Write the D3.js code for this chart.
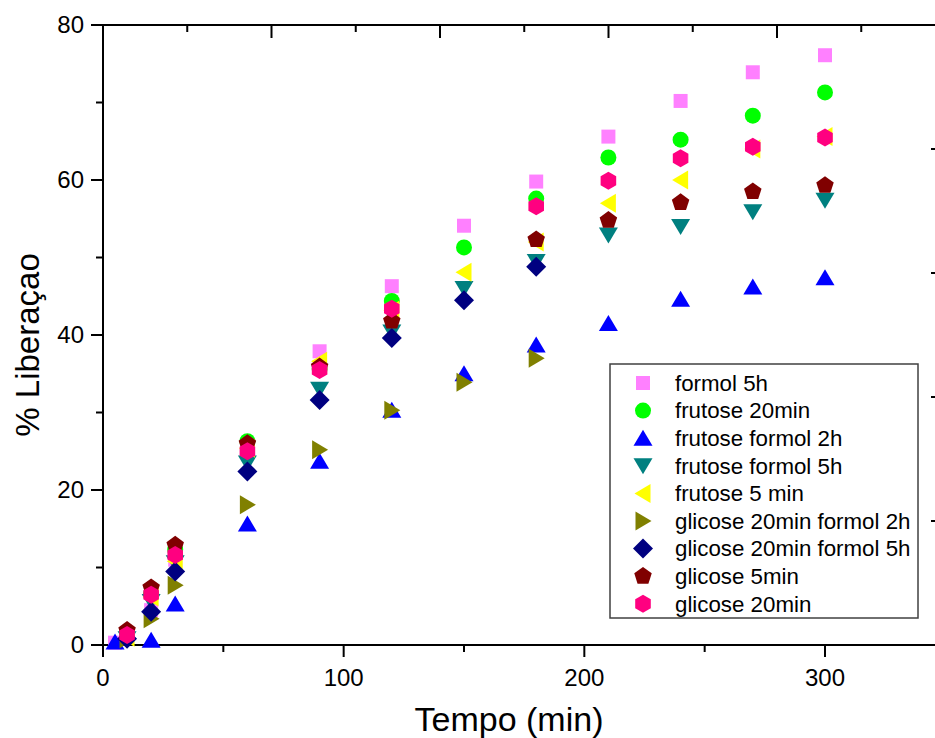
<!DOCTYPE html>
<html>
<head>
<meta charset="utf-8">
<script src="https://cdn.jsdelivr.net/npm/d3@7/dist/d3.min.js"></script>
<style>
  html, body { margin: 0; padding: 0; background: #fff; }
  svg { display: block; font-family: Arial, "Liberation Sans", sans-serif; }
</style>
</head>
<body>
<svg id="chart" width="935" height="738"></svg>
<script>
// ---------------- DATA ----------------
const times = [5, 10, 20, 30, 60, 90, 120, 150, 180, 210, 240, 270, 300];

const seriesNames = [
  "formol 5h",
  "frutose 20min",
  "frutose formol 2h",
  "frutose formol 5h",
  "frutose 5 min",
  "glicose 20min formol 2h",
  "glicose 20min formol 5h",
  "glicose 5min",
  "glicose 20min"
];

const formol5h          = [0.3, 1.0, 4.5, 11.0, 25.5, 37.9, 46.3, 54.1, 59.8, 65.6, 70.2, 73.9, 76.1];
const frutose20min      = [null, 1.0, 6.6, 12.3, 26.3, 35.6, 44.4, 51.3, 57.6, 62.9, 65.2, 68.3, 71.3];
const frutoseFormol2h   = [0.4, null, 0.6, 5.3, 15.6, 23.7, 30.3, 35.0, 38.7, 41.5, 44.6, 46.2, 47.4];
const frutoseFormol5h   = [null, 0.8, 5.6, 10.6, 23.5, 33.0, 40.4, 46.0, 49.5, 52.9, 54.0, 55.9, 57.4];
const frutose5min       = [null, 1.0, 6.2, 10.8, 25.4, 36.6, 43.2, 48.1, 52.0, 57.0, 60.0, 64.0, 65.6];
const glicose20Formol2h = [null, 0.8, 3.4, 7.7, 18.1, 25.2, 30.3, 33.9, 37.0, null, null, null, null];
const glicose20Formol5h = [null, 0.8, 4.3, 9.5, 22.4, 31.6, 39.6, 44.5, 48.8, null, null, null, null];
const glicose5min       = [null, 1.9, 7.4, 12.9, 26.0, 35.9, 41.8, null, 52.3, 54.8, 57.1, 58.5, 59.3];
const glicose20min      = [null, 1.3, 6.5, 11.6, 25.0, 35.5, 43.4, null, 56.6, 59.9, 62.8, 64.3, 65.5];

const seriesValues = [formol5h, frutose20min, frutoseFormol2h, frutoseFormol5h, frutose5min,
                      glicose20Formol2h, glicose20Formol5h, glicose5min, glicose20min];

const xTickLabels = [0, 100, 200, 300];
const yTickLabels = [0, 20, 40, 60, 80];

// ---------------- STYLE ----------------
const seriesColors = ["#FF80FF", "#00FF00", "#0000FF", "#008080", "#FFFF00",
                      "#808000", "#000080", "#800000", "#FF0080"];
const seriesShapes = ["square", "circle", "triUp", "triDown", "triLeft",
                      "triRight", "diamond", "pentagon", "hexagon"];

function shapePath(shape) {
  const p = d3.path();
  const poly = pts => { p.moveTo(pts[0][0], pts[0][1]); pts.slice(1).forEach(q => p.lineTo(q[0], q[1])); p.closePath(); };
  const reg = (n, r, rot) => d3.range(n).map(i => {
    const a = rot + i * 2 * Math.PI / n;
    return [r * Math.sin(a), -r * Math.cos(a)];
  });
  switch (shape) {
    case "square": poly([[-7,-7],[7,-7],[7,7],[-7,7]]); break;
    case "circle": p.arc(0, 0, 8, 0, 2 * Math.PI); break;
    case "triUp": poly([[0,-8.5],[9.5,7.5],[-9.5,7.5]]); break;
    case "triDown": poly([[0,8.5],[9.5,-7.5],[-9.5,-7.5]]); break;
    case "triLeft": poly([[-8.5,0],[7.5,-9.5],[7.5,9.5]]); break;
    case "triRight": poly([[8.5,0],[-7.5,-9.5],[-7.5,9.5]]); break;
    case "diamond": poly([[0,-10],[10,0],[0,10],[-10,0]]); break;
    case "pentagon": poly(reg(5, 9.2, 0)); break;
    case "hexagon": poly(reg(6, 9, 0)); break;
  }
  return p.toString();
}

// ---------------- LAYOUT ----------------
const svg = d3.select("#chart");
const x = d3.scaleLinear().domain([0, 300]).range([103, 825]);
const y = d3.scaleLinear().domain([0, 80]).range([645, 25]);
const xTop = d3.scaleLinear().domain([0, 5]).range([103, 103 + 5 * 168.5]);
const yRight = d3.scaleLinear().domain([0, 5]).range([645, 25]);
const rightX = 938;

const axisG = svg.append("g").attr("stroke", "#000").attr("stroke-width", 2).attr("fill", "none");

// frame lines
axisG.append("line").attr("x1", x(0)).attr("x2", x(0)).attr("y1", y(80)).attr("y2", y(0) + 12);
axisG.append("line").attr("x1", x(0) - 12).attr("x2", 960).attr("y1", y(0)).attr("y2", y(0));
axisG.append("line").attr("x1", x(0) - 12).attr("x2", 960).attr("y1", y(80)).attr("y2", y(80));
axisG.append("line").attr("x1", rightX).attr("x2", rightX).attr("y1", y(80)).attr("y2", y(0));

// bottom ticks
d3.range(0, 301, 50).forEach(v => {
  const major = v % 100 === 0;
  axisG.append("line").attr("x1", x(v)).attr("x2", x(v))
    .attr("y1", y(0)).attr("y2", y(0) + (major ? 12 : 7));
});
// left ticks
d3.range(0, 81, 10).forEach(v => {
  const major = v % 20 === 0;
  axisG.append("line").attr("x1", x(0) - (major ? 12 : 7)).attr("x2", x(0))
    .attr("y1", y(v)).attr("y2", y(v));
});
// top ticks (inward)
d3.range(0.5, 5.01, 0.5).forEach(v => {
  const major = Number.isInteger(v);
  axisG.append("line").attr("x1", xTop(v)).attr("x2", xTop(v))
    .attr("y1", y(80)).attr("y2", y(80) + (major ? 13 : 7));
});
// right ticks (inward)
d3.range(1, 5).forEach(v => {
  axisG.append("line").attr("x1", rightX - 7).attr("x2", rightX)
    .attr("y1", yRight(v)).attr("y2", yRight(v));
});

// tick labels
svg.append("g").selectAll("text").data(xTickLabels).join("text")
  .attr("x", d => x(d)).attr("y", 686)
  .attr("text-anchor", "middle").attr("font-size", 24).attr("fill", "#000")
  .text(d => d);
svg.append("g").selectAll("text").data(yTickLabels).join("text")
  .attr("x", 84).attr("y", d => y(d)).attr("dy", "0.35em")
  .attr("text-anchor", "end").attr("font-size", 24).attr("fill", "#000")
  .text(d => d);

// axis titles
svg.append("text").attr("x", 509).attr("y", 731).attr("text-anchor", "middle")
  .attr("font-size", 34).attr("fill", "#000").text("Tempo (min)");
svg.append("text").attr("transform", "translate(39,345) rotate(-90)")
  .attr("text-anchor", "middle").attr("font-size", 33).attr("fill", "#000").text("% Liberaçao");

// ---------------- POINTS ----------------
const pointsG = svg.append("g");
seriesValues.forEach((vals, si) => {
  const pts = times.map((t, i) => ({ t, v: vals[i] })).filter(d => d.v !== null);
  pointsG.append("g").selectAll("path").data(pts).join("path")
    .attr("transform", d => `translate(${x(d.t)},${y(d.v)})`)
    .attr("d", shapePath(seriesShapes[si]))
    .attr("fill", seriesColors[si]);
});

// ---------------- LEGEND ----------------
const leg = svg.append("g");
leg.append("rect").attr("x", 610).attr("y", 364).attr("width", 308).attr("height", 254)
  .attr("fill", "#fff").attr("stroke", "#404040").attr("stroke-width", 1.5);
seriesNames.forEach((name, i) => {
  const cy = 383 + i * 27.6;
  leg.append("path").attr("transform", `translate(643,${cy})`)
    .attr("d", shapePath(seriesShapes[i])).attr("fill", seriesColors[i]);
  leg.append("text").attr("x", 675).attr("y", cy).attr("dy", "0.35em")
    .attr("font-size", 22.3).attr("fill", "#000").text(name);
});
</script>
</body>
</html>
